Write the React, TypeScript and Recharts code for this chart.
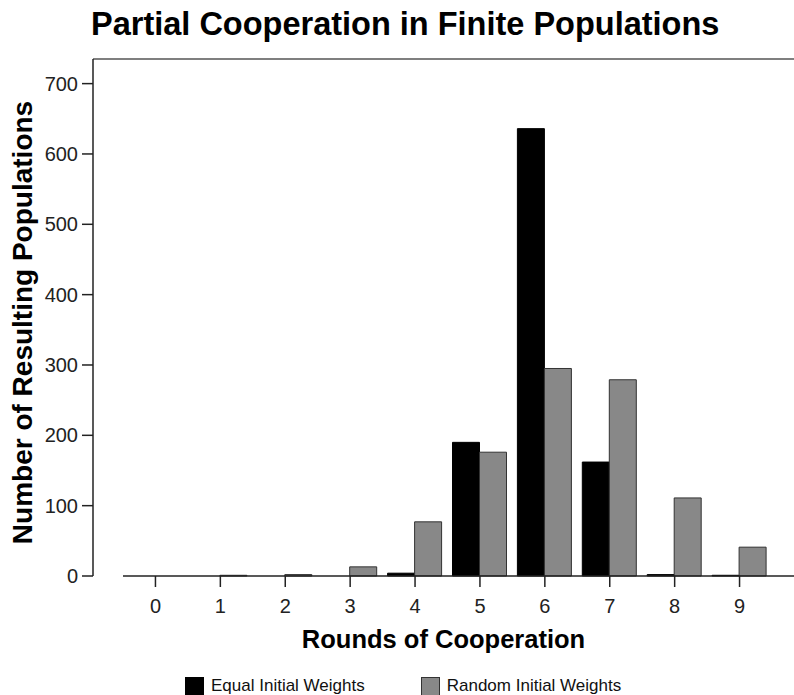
import { BarChart, Bar, XAxis, YAxis, ReferenceLine } from "recharts";

const rounds = ["0", "1", "2", "3", "4", "5", "6", "7", "8", "9"];
const equalWeights = [0, 0, 0, 0, 4, 190, 636, 162, 2, 1];
const randomWeights = [0, 1, 2, 13, 77, 176, 295, 279, 111, 41];
const yTicks = [0, 100, 200, 300, 400, 500, 600, 700];

const seriesInfo = [
  { key: "equal", name: "Equal Initial Weights", fill: "#000000", stroke: "#000000" },
  { key: "random", name: "Random Initial Weights", fill: "#888888", stroke: "#333333" },
];

const data = rounds.map((r, i) => ({
  round: r,
  equal: equalWeights[i],
  random: randomWeights[i],
}));

const font = "'Liberation Sans', Arial, sans-serif";

// x axis baseline in the original starts at the first category, not at the y axis
function BaseLine(props: any) {
  const { x1, x2, y1 } = props;
  return <line x1={x1 + 30} x2={x2} y1={y1} y2={y1} stroke="#222" strokeWidth={1.5} />;
}

export default function App() {
  return (
    <div style={{ position: "absolute", left: 0, top: 0, width: 794, height: 695, background: "#fff", fontFamily: font }}>
      <div
        style={{
          position: "absolute",
          left: 91,
          top: 8,
          fontSize: 32.5,
          lineHeight: 1,
          fontWeight: "bold",
          color: "#000",
          whiteSpace: "nowrap",
        }}
      >
        Partial Cooperation in Finite Populations
      </div>

      <BarChart
        width={794}
        height={695}
        data={data}
        margin={{ top: 59, right: 0, left: 0, bottom: 40 }}
        barCategoryGap={5}
        barGap={0}
        style={{ fontFamily: font }}
      >
        <XAxis
          dataKey="round"
          padding={{ left: 30, right: 22 }}
          axisLine={false}
          tickLine={{ stroke: "#222", strokeWidth: 1.5 }}
          tickSize={11}
          tickMargin={12}
          tick={{ fill: "#222", fontSize: 20 }}
          height={79}
          label={{
            value: "Rounds of Cooperation",
            position: "insideBottom",
            offset: 7,
            style: { fill: "#000", fontSize: 25.5, fontWeight: "bold" },
          }}
        />
        <YAxis
          domain={[0, 735]}
          ticks={yTicks}
          width={93}
          axisLine={{ stroke: "#222", strokeWidth: 1.5 }}
          tickLine={{ stroke: "#222", strokeWidth: 1.5 }}
          tickSize={11}
          tickMargin={4}
          tick={{ fill: "#222", fontSize: 20 }}
          label={{
            value: "Number of Resulting Populations",
            angle: -90,
            position: "center",
            dx: -24,
            dy: 5,
            style: { fill: "#000", fontSize: 28, fontWeight: "bold", textAnchor: "middle" },
          }}
        />
        <ReferenceLine y={735} stroke="#555" strokeWidth={1.5} />
        <ReferenceLine y={0} shape={BaseLine} />
        {seriesInfo.map((s) => (
          <Bar
            key={s.key}
            dataKey={s.key}
            name={s.name}
            fill={s.fill}
            stroke={s.stroke}
            strokeWidth={1}
            isAnimationActive={false}
          />
        ))}
      </BarChart>

      <div
        style={{
          position: "absolute",
          left: 185,
          top: 676,
          display: "flex",
          alignItems: "center",
          fontSize: 17,
          color: "#111",
          whiteSpace: "nowrap",
        }}
      >
        {seriesInfo.map((s) => (
          <div key={s.key} style={{ display: "flex", alignItems: "center", marginRight: 56 }}>
            <div
              style={{
                width: 17,
                height: 17,
                background: s.fill,
                border: `1px solid ${s.stroke}`,
                marginRight: 7,
              }}
            />
            <span>{s.name}</span>
          </div>
        ))}
      </div>
    </div>
  );
}
